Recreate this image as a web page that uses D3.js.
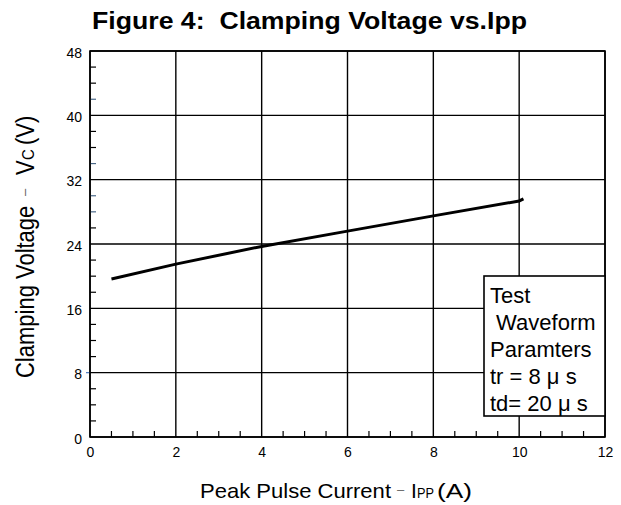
<!DOCTYPE html>
<html>
<head>
<meta charset="utf-8">
<script src="https://cdn.jsdelivr.net/npm/d3@7"></script>
<style>
  body { margin: 0; background: #fff; }
  svg text { font-family: "Liberation Sans", Arial, sans-serif; white-space: pre; }
</style>
</head>
<body>
<div id="chart"></div>
<script>
// values
const currentA = [0.5, 2, 4, 6, 8, 10, 10.1];
const clampV = [19.65, 21.5, 23.7, 25.6, 27.5, 29.35, 29.6];

const xTicks = [0, 2, 4, 6, 8, 10, 12];
const yTicks = [0, 8, 16, 24, 32, 40, 48];
const legendLines = ["Test", " Waveform", "Paramters", "tr = 8 \u03bc s", "td= 20 \u03bc s"];

var width = 621, height = 505;
var margin = ({top: 51, right: 16, bottom: 68, left: 90});

var svg = d3.select("#chart")
    .append("svg")
    .attr("width", width)
    .attr("height", height);

var x = d3.scaleLinear()
    .domain([0, 12])
    .range([margin.left, width - margin.right]);

var y = d3.scaleLinear()
    .domain([0, 48])
    .range([height - margin.bottom, margin.top]);

// title (the source image is a bit stretched sideways)
svg.append("text")
    .attr("x", 92)
    .attr("y", 29)
    .attr("font-size", 23)
    .attr("font-weight", "bold")
    .attr("textLength", 435)
    .attr("lengthAdjust", "spacingAndGlyphs")
    .text("Figure 4:  Clamping Voltage vs.Ipp");

// grid
svg.append("g")
    .selectAll("line")
    .data(xTicks)
    .join("line")
    .attr("x1", d => x(d)).attr("x2", d => x(d))
    .attr("y1", y(0)).attr("y2", y(48))
    .attr("stroke", "#000")
    .attr("stroke-width", 1.4);

svg.append("g")
    .selectAll("line")
    .data(yTicks)
    .join("line")
    .attr("x1", x(0)).attr("x2", x(12))
    .attr("y1", d => y(d)).attr("y2", d => y(d))
    .attr("stroke", "#000")
    .attr("stroke-width", 1.4);

// minor ticks, inside the frame
var xMinor = d3.range(0.5, 12, 0.5).filter(d => d % 2 != 0);
var yMinor = d3.range(2, 48, 2).filter(d => d % 8 != 0);
var blueTicks = [28, 30, 34, 42];

svg.append("g")
    .selectAll("line")
    .data(xMinor)
    .join("line")
    .attr("x1", d => x(d)).attr("x2", d => x(d))
    .attr("y1", y(0)).attr("y2", y(0) - 6)
    .attr("stroke", "#000")
    .attr("stroke-width", 1.2);

svg.append("g")
    .selectAll("line")
    .data(yMinor)
    .join("line")
    .attr("x1", x(0)).attr("x2", x(0) + 6)
    .attr("y1", d => y(d)).attr("y2", d => y(d))
    .attr("stroke", d => blueTicks.includes(d) ? "#4a6888" : "#000")
    .attr("stroke-width", 1.2);

svg.append("line")
    .attr("x1", x(0) - 4).attr("x2", x(0))
    .attr("y1", y(8)).attr("y2", y(8))
    .attr("stroke", "#4a7ac0")
    .attr("stroke-width", 1.2);

// frame
svg.append("rect")
    .attr("x", x(0)).attr("y", y(48))
    .attr("width", x(12) - x(0))
    .attr("height", y(0) - y(48))
    .attr("fill", "none")
    .attr("stroke", "#000")
    .attr("stroke-width", 1.6);

// tick labels
var xAxis = g => g
    .attr("transform", `translate(0,${y(0)})`)
    .call(d3.axisBottom(x).tickValues(xTicks).tickSize(0).tickPadding(10))
    .call(g => g.select(".domain").remove())
    .call(g => g.selectAll("text")
        .attr("font-size", 14)
        .attr("fill", "#000")
        .style("font-family", "Liberation Sans, Arial, sans-serif"));

var yAxis = g => g
    .attr("transform", `translate(${x(0)},0)`)
    .call(d3.axisLeft(y).tickValues(yTicks).tickSize(0).tickPadding(8))
    .call(g => g.select(".domain").remove())
    .call(g => g.selectAll("text")
        .attr("font-size", 14)
        .attr("fill", "#000")
        .attr("dy", "0.45em")
        .style("font-family", "Liberation Sans, Arial, sans-serif"));

svg.append("g").call(xAxis);
svg.append("g").call(yAxis);

// curve
var line = d3.line()
    .x((d, i) => x(currentA[i]))
    .y(d => y(d));

svg.append("path")
    .datum(clampV)
    .attr("fill", "none")
    .attr("stroke", "#000")
    .attr("stroke-width", 3)
    .attr("d", line);

// axis titles
var xt = svg.append("text")
    .attr("y", 497.5)
    .attr("font-size", 21);
xt.append("tspan").attr("x", 200)
    .attr("textLength", 191).attr("lengthAdjust", "spacingAndGlyphs").text("Peak Pulse Current");
xt.append("tspan").attr("x", 397).attr("font-size", 13).attr("fill", "#666").attr("dy", -4).text("\u2013");
xt.append("tspan").attr("x", 411).attr("dy", 4).text("I");
xt.append("tspan").attr("x", 417).attr("font-size", 14)
    .attr("textLength", 17).attr("lengthAdjust", "spacingAndGlyphs").text("PP");
xt.append("tspan").attr("x", 437)
    .attr("textLength", 35).attr("lengthAdjust", "spacingAndGlyphs").text("(A)");

var yt = svg.append("text")
    .attr("transform", "translate(34,378) scale(1.15,1) rotate(-90)")
    .attr("font-size", 22);
yt.append("tspan").attr("x", 0).text("Clamping Voltage");
yt.append("tspan").attr("x", 182).attr("font-size", 13).attr("fill", "#666").attr("dy", -4).text("\u2013");
yt.append("tspan").attr("x", 203).attr("dy", 4).text("V");
yt.append("tspan").attr("x", 218).attr("font-size", 15).text("C");
yt.append("tspan").attr("x", 233).text("(V)");

// legend box
svg.append("rect")
    .attr("x", 484).attr("y", 276)
    .attr("width", x(12) - 484)
    .attr("height", 140)
    .attr("fill", "#fff")
    .attr("stroke", "#000")
    .attr("stroke-width", 1.6);

svg.append("g")
    .selectAll("text")
    .data(legendLines)
    .join("text")
    .attr("x", 490)
    .attr("y", (d, i) => 302.5 + i * 27)
    .attr("font-size", 22)
    .text(d => d);
</script>
</body>
</html>
